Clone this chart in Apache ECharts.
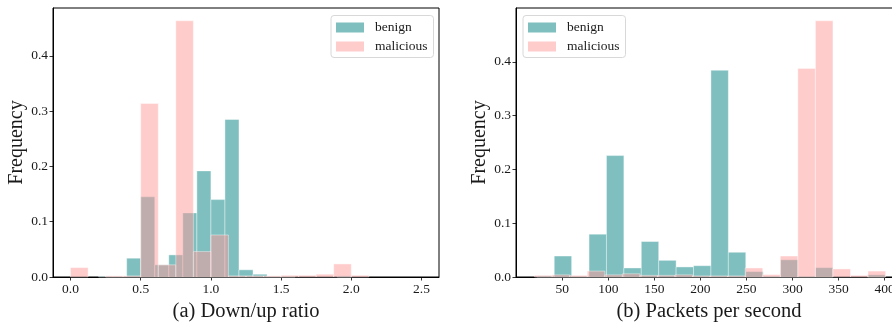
<!DOCTYPE html>
<html>
<head>
<meta charset="utf-8">
<script src="https://cdn.jsdelivr.net/npm/echarts@6/dist/echarts.min.js"></script>
<style>
html,body{margin:0;padding:0;background:#fff;}
#chart{width:892px;height:323px;}
</style>
</head>
<body>
<div id="chart"></div>
<script>
// ---- Data ----
// (a) Down/up ratio
const ratioBenignEdges = [0.0,0.1,0.2,0.3,0.4,0.5,0.6,0.7,0.8,0.9,1.0,1.1,1.2,1.3,1.4,1.5,1.6,1.7,1.8,1.9,2.0,2.1,2.2,2.3,2.4,2.5];
const ratioBenignFreq  = [0,0,0.001,0.001,0.034,0.145,0.022,0.040,0.116,0.192,0.140,0.285,0.013,0.005,0.001,0.001,0,0,0,0.002,0,0,0,0,0];
const ratioMalEdges = [0.0,0.125,0.25,0.375,0.5,0.625,0.75,0.875,1.0,1.125,1.25,1.375,1.5,1.625,1.75,1.875,2.0,2.125,2.25,2.375,2.5];
const ratioMalFreq  = [0.017,0,0.002,0.002,0.314,0.022,0.4635,0.046,0.076,0.002,0.002,0.002,0.003,0.003,0.005,0.0236,0.003,0,0,0];
// (b) Packets per second
const ppsBenignEdges = [22.4,41.3,60.2,79.1,98.0,116.9,135.8,154.7,173.6,192.5,211.4,230.3,249.2,268.1,287.0,305.9,324.8,343.7,362.6,381.5,400.4];
const ppsBenignFreq  = [0.002,0.039,0.001,0.0796,0.2258,0.0168,0.066,0.031,0.0187,0.021,0.3845,0.046,0.010,0.001,0.032,0.001,0.0174,0,0,0.004];
const ppsMalEdges = [20,39.05,58.1,77.15,96.2,115.25,134.3,153.35,172.4,191.45,210.5,229.55,248.6,267.65,286.7,305.75,324.8,343.85,362.9,381.95,401];
const ppsMalFreq  = [0.003,0.004,0.003,0.011,0.004,0.006,0.003,0.003,0.004,0.002,0.002,0.002,0.0168,0.0044,0.039,0.388,0.4765,0.015,0.003,0.011];
// Ticks
const ratioTicks = [0.0,0.5,1.0,1.5,2.0,2.5];
const ppsTicks = [50,100,150,200,250,300,350,400];
const freqTicks = [0.0,0.1,0.2,0.3,0.4];
const seriesNames = ['benign','malicious'];
const xTitles = ['(a) Down/up ratio','(b) Packets per second'];
const yTitle = 'Frequency';

// ---- Build ----
const FONT = 'Liberation Serif';
const TXT = '#1a1a1a';
function toBins(edges, freq){
  const out = [];
  for (let i = 0; i < freq.length; i++) if (freq[i] > 0) out.push([edges[i], edges[i+1], freq[i]]);
  return out;
}
function renderBar(params, api){
  const p0 = api.coord([api.value(0), api.value(2)]);
  const p1 = api.coord([api.value(1), 0]);
  return {type:'rect', shape:{x:p0[0], y:p0[1], width:p1[0]-p0[0], height:p1[1]-p0[1]}, style: api.style()};
}
const benignStyle = {color:'rgb(0,128,128)', opacity:0.5, borderColor:'#ffffff', borderWidth:0.8};
const malStyle = {color:'rgb(255,153,153)', opacity:0.5, borderColor:'#ffffff', borderWidth:0.8};

function xAxis(idx, min, max, ticks, fmt, title){
  return {
    type:'value', gridIndex:idx, min:min, max:max,
    name:title, nameLocation:'middle', nameGap:19,
    nameTextStyle:{fontFamily:FONT, fontSize:20.5, color:TXT},
    axisLine:{show:true, onZero:false, lineStyle:{color:'#000', width:1}}, splitLine:{show:false},
    axisTick:{show:true, length:3.5, customValues:ticks, lineStyle:{color:'#000', width:0.8}},
    axisLabel:{customValues:ticks, formatter:fmt, margin:5, fontFamily:FONT, fontSize:13.5, color:TXT, hideOverlap:false}
  };
}
function yAxis(idx, max, gap){
  return {
    type:'value', gridIndex:idx, min:0, max:max,
    name:yTitle, nameLocation:'middle', nameGap:gap, nameRotate:90,
    nameTextStyle:{fontFamily:FONT, fontSize:20, color:TXT},
    axisLine:{show:true, onZero:false, lineStyle:{color:'#000', width:1}}, splitLine:{show:false},
    axisTick:{show:true, length:3.5, customValues:freqTicks, lineStyle:{color:'#000', width:0.8}},
    axisLabel:{customValues:freqTicks, formatter:v=>v.toFixed(1), margin:5, fontFamily:FONT, fontSize:13.5, color:TXT}
  };
}
function legend(left){
  return {
    orient:'vertical', left:left, top:15.5, icon:'rect',
    itemWidth:28, itemHeight:10, itemGap:5,
    padding:[5,6,4,5], borderColor:'#d8d8d8', borderWidth:1, borderRadius:3,
    backgroundColor:'rgba(255,255,255,0.8)',
    itemStyle:{borderWidth:0},
    textStyle:{fontFamily:FONT, fontSize:13.5, color:TXT, lineHeight:14, padding:[0,0,0,6]},
    data:seriesNames
  };
}

const chart = echarts.init(document.getElementById('chart'), null, {renderer:'canvas'});
chart.setOption({
  animation:false,
  backgroundColor:'#fff',
  grid:[
    {left:53, top:8, width:386, height:269, outerBoundsMode:'none', containLabel:false, show:true, borderColor:'#000', borderWidth:1, backgroundColor:'transparent'},
    {left:516, top:8, width:386, height:269, outerBoundsMode:'none', containLabel:false, show:true, borderColor:'#000', borderWidth:1, backgroundColor:'transparent'}
  ],
  xAxis:[
    xAxis(0, -0.125, 2.625, ratioTicks, v=>v.toFixed(1), xTitles[0]),
    xAxis(1, -0.2, 418.8, ppsTicks, v=>String(v), xTitles[1])
  ],
  yAxis:[ yAxis(0, 0.4867, 20), yAxis(1, 0.5003, 21) ],
  legend:[ legend(331), legend(523) ],
  series:[
    {type:'custom', name:seriesNames[0], xAxisIndex:0, yAxisIndex:0, renderItem:renderBar, encode:{x:[0,1], y:2}, itemStyle:benignStyle, data:toBins(ratioBenignEdges, ratioBenignFreq)},
    {type:'custom', name:seriesNames[1], xAxisIndex:0, yAxisIndex:0, renderItem:renderBar, encode:{x:[0,1], y:2}, itemStyle:malStyle, data:toBins(ratioMalEdges, ratioMalFreq)},
    {type:'custom', name:seriesNames[0], xAxisIndex:1, yAxisIndex:1, renderItem:renderBar, encode:{x:[0,1], y:2}, itemStyle:benignStyle, data:toBins(ppsBenignEdges, ppsBenignFreq)},
    {type:'custom', name:seriesNames[1], xAxisIndex:1, yAxisIndex:1, renderItem:renderBar, encode:{x:[0,1], y:2}, itemStyle:malStyle, data:toBins(ppsMalEdges, ppsMalFreq)}
  ]
});
</script>
</body>
</html>
